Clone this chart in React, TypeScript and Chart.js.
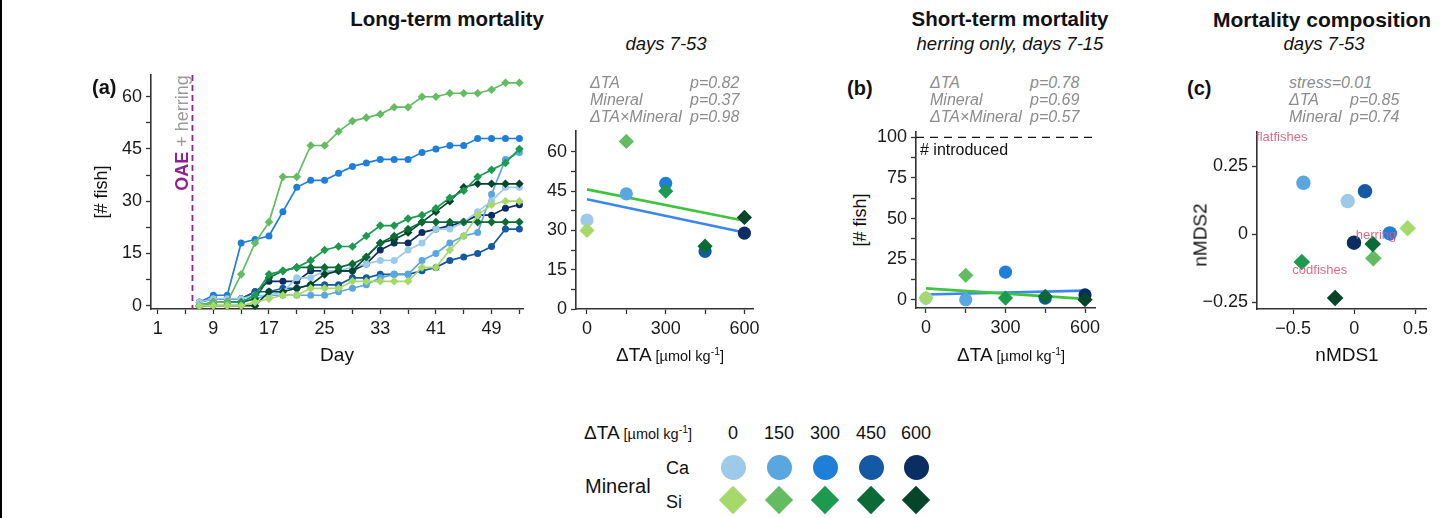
import React, { useEffect, useRef } from 'react';
import { Chart, registerables } from 'chart.js';

Chart.register(...registerables);

const FONT = '"Liberation Sans", Arial, Helvetica, sans-serif';

// ---------------- data ----------------
const days = [7, 9, 11, 13, 15, 17, 19, 21, 23, 25, 27, 29, 31, 33, 35, 37, 39, 41, 43, 45, 47, 49, 51, 53];
const ca0 = [1, 2, 2, 2, 3, 3, 4, 8, 8, 10, 10, 11, 12, 13, 13, 16, 18, 22, 22, 24, 27, 30, 34, 34];
const ca150 = [0, 1, 1, 1, 2, 3, 3, 3, 3, 3, 4, 5, 6, 8, 9, 9, 13, 15, 18, 20, 21, 32, 42, 44];
const ca300 = [1, 3, 3, 18, 19, 20, 27, 34, 36, 36, 38, 40, 41, 42, 42, 42, 44, 45, 46, 46, 48, 48, 48, 48];
const ca450 = [1, 2, 2, 2, 4, 4, 5, 5, 6, 6, 6, 8, 8, 9, 9, 9, 10, 11, 13, 14, 15, 17, 22, 22];
const ca600 = [1, 2, 2, 2, 4, 7, 7, 7, 10, 10, 10, 10, 12, 16, 18, 18, 21, 22, 23, 24, 26, 26, 28, 29];
const si0 = [0, 0, 0, 0, 1, 2, 3, 3, 5, 5, 5, 7, 7, 7, 7, 7, 11, 11, 16, 20, 26, 29, 30, 30];
const si150 = [0, 1, 1, 9, 18, 24, 37, 37, 46, 46, 50, 53, 54, 55, 57, 57, 60, 60, 61, 61, 61, 62, 64, 64];
const si300 = [0, 1, 1, 1, 3, 9, 10, 11, 13, 16, 17, 17, 20, 23, 23, 25, 26, 28, 31, 33, 37, 39, 41, 45];
const si450 = [0, 1, 1, 1, 2, 8, 10, 11, 11, 11, 11, 12, 14, 18, 20, 22, 24, 24, 24, 24, 24, 24, 24, 24];
const si600 = [0, 0, 0, 0, 0, 4, 4, 5, 6, 9, 10, 10, 14, 18, 19, 21, 24, 27, 30, 34, 35, 35, 35, 35];
const oaeDay = 6;

const taLevels = [0, 150, 300, 450, 600];
const caColors = ['#9ecae9', '#5aa7e0', '#1f7fd8', '#1558a3', '#0a2d62'];
const siColors = ['#a6d96a', '#63bb62', '#1b9a50', '#0a6b37', '#05452a'];

const longCa = [34, 44, 48, 22, 29];
const longSi = [30, 64, 45, 24, 35];
const fitX = [0, 600];
const longFitCa = [41.9, 29.2];
const longFitSi = [45.7, 33.7];

const shortCa = [1, 0, 17, 1, 3];
const shortSi = [1, 15, 1, 2, 0];
const shortFitCa = [3.2, 5.6];
const shortFitSi = [7.0, 0.5];
const introducedN = 100;

const nmdsCaX = [-0.054, -0.416, 0.29, 0.087, -0.003];
const nmdsCaY = [0.122, 0.189, 0.003, 0.158, -0.031];
const nmdsSiX = [0.435, 0.155, -0.429, 0.15, -0.157];
const nmdsSiY = [0.022, -0.088, -0.102, -0.036, -0.234];
const speciesNames = ['flatfishes', 'herring', 'codfishes'];
const speciesX = [-0.593, 0.177, -0.282];
const speciesY = [0.357, -0.003, -0.131];

const pTermsLong = ['ΔTA', 'Mineral', 'ΔTA×Mineral'];
const pValsLong = [0.82, 0.37, 0.98];
const pTermsShort = ['ΔTA', 'Mineral', 'ΔTA×Mineral'];
const pValsShort = [0.78, 0.69, 0.57];
const nmdsStress = 0.01;
const pTermsNmds = ['ΔTA', 'Mineral'];
const pValsNmds = [0.85, 0.74];

// tick lists
const tsXTicks = [1, 5, 9, 13, 17, 21, 25, 29, 33, 37, 41, 45, 49, 53];
const tsXLabels = [1, 9, 17, 25, 33, 41, 49];
const fishTicks = [0, 7.5, 15, 22.5, 30, 37.5, 45, 52.5, 60];
const fishLabels = [0, 15, 30, 45, 60];
const taTicks = [0, 150, 300, 450, 600];
const taLabels = [0, 300, 600];
const shortTicks = [0, 12.5, 25, 37.5, 50, 62.5, 75, 87.5, 100];
const shortLabels = [0, 25, 50, 75, 100];
const nmdsXTicks = [-0.5, 0, 0.5];
const nmdsYTicks = [-0.25, 0, 0.25];

// ---------------- helpers ----------------
const PURPLE = '#922092';
const GREYTXT = '#8c8c8c';
const AXIS = '#333333';

function axis(min: number, max: number, ticks: number[], labels: number[], fmt: (v: number) => string = (v) => String(v)) {
  return {
    type: 'linear',
    min,
    max,
    afterBuildTicks: (s: any) => {
      s.ticks = ticks.map((v) => ({ value: v }));
    },
    ticks: {
      autoSkip: false,
      maxRotation: 0,
      minRotation: 0,
      padding: 4,
      color: '#1a1a1a',
      font: { family: FONT, size: 18 },
      callback: (v: number) => (labels.some((l) => Math.abs(l - v) < 1e-9) ? fmt(v) : ''),
    },
    grid: { display: true, drawOnChartArea: false, drawTicks: true, tickLength: 5, tickWidth: 1.3, tickColor: AXIS },
    border: { display: true, color: AXIS, width: 1.6 },
  } as any;
}

const nmdsFmt = (v: number) => (Math.abs(v) < 1e-9 ? '0' : (v < 0 ? '\u2212' : '') + String(Math.abs(v)));

type Area = { left: number; top: number; right: number; bottom: number };

function ChartPanel({ area, yW, xH = 40, padTop = 20, padRight = 20, make }: { area: Area; yW: number; xH?: number; padTop?: number; padRight?: number; make: () => any }) {
  const ref = useRef<HTMLCanvasElement | null>(null);
  const w = area.right - area.left + yW + padRight;
  const h = area.bottom - area.top + padTop + xH;
  useEffect(() => {
    const cfg = make();
    cfg.options = cfg.options || {};
    cfg.options.responsive = false;
    cfg.options.animation = false;
    cfg.options.devicePixelRatio = 1;
    cfg.options.events = [];
    cfg.options.layout = { padding: { top: padTop, right: padRight, left: 0, bottom: 0 } };
    cfg.options.plugins = { ...(cfg.options.plugins || {}), legend: { display: false }, tooltip: { enabled: false } };
    cfg.options.scales.x.afterFit = (s: any) => {
      s.height = xH;
    };
    cfg.options.scales.y.afterFit = (s: any) => {
      s.width = yW;
    };
    const chart = new Chart(ref.current as HTMLCanvasElement, cfg);
    return () => chart.destroy();
  }, []);
  return (
    <canvas
      ref={ref}
      width={w}
      height={h}
      style={{ position: 'absolute', left: area.left - yW, top: area.top - padTop, width: w, height: h }}
    />
  );
}

function Txt({ x, y, a = 'start', size = 18, bold = false, italic = false, color = '#111', rot = false, children }: any) {
  const tx = a === 'start' ? '0' : a === 'middle' ? '-50%' : '-100%';
  return (
    <div
      style={{
        position: 'absolute',
        left: x,
        top: y,
        transform: rot ? 'translate(-50%,-50%) rotate(-90deg)' : `translate(${tx},-50%)`,
        fontSize: size,
        fontWeight: bold ? 700 : 400,
        fontStyle: italic ? 'italic' : 'normal',
        color,
        whiteSpace: 'nowrap',
        lineHeight: 1,
      }}
    >
      {children}
    </div>
  );
}

const TAUnit = ({ big = 19, small = 14.5 }: any) => (
  <span>
    <span style={{ fontSize: big }}>ΔTA</span>
    <span style={{ fontSize: small }}>
      {' '}[µmol kg<sup style={{ fontSize: '0.72em', verticalAlign: '0.55em' }}>-1</sup>]
    </span>
  </span>
);

// ---------------- chart builders ----------------
const caSeries = [ca0, ca150, ca300, ca450, ca600];
const siSeries = [si0, si150, si300, si450, si600];

const oaePlugin = {
  id: 'oaeLine',
  beforeDatasetsDraw(chart: any) {
    const { ctx, chartArea, scales } = chart;
    const x = scales.x.getPixelForValue(oaeDay);
    ctx.save();
    ctx.strokeStyle = PURPLE;
    ctx.lineWidth = 1.8;
    ctx.setLineDash([6, 4]);
    ctx.beginPath();
    ctx.moveTo(x, chartArea.top);
    ctx.lineTo(x, chartArea.bottom);
    ctx.stroke();
    ctx.restore();
  },
};

function makeTs() {
  const ds: any[] = [];
  siSeries.forEach((s, i) =>
    ds.push({
      data: days.map((d, j) => ({ x: d, y: s[j] })),
      showLine: true,
      borderColor: siColors[i],
      backgroundColor: siColors[i],
      pointBackgroundColor: siColors[i],
      pointBorderColor: siColors[i],
      pointBorderWidth: 0,
      pointStyle: 'rectRot',
      pointRadius: 4.3,
      borderWidth: 1.7,
      clip: false,
    })
  );
  caSeries.forEach((s, i) =>
    ds.push({
      data: days.map((d, j) => ({ x: d, y: s[j] })),
      showLine: true,
      borderColor: caColors[i],
      backgroundColor: caColors[i],
      pointBackgroundColor: caColors[i],
      pointBorderColor: caColors[i],
      pointBorderWidth: 0,
      pointStyle: 'circle',
      pointRadius: 3.5,
      borderWidth: 1.7,
      clip: false,
    })
  );
  return {
    type: 'scatter',
    data: { datasets: ds },
    options: {
      scales: {
        x: axis(0.04, 53.52, tsXTicks, tsXLabels),
        y: axis(-0.95, 66.24, fishTicks, fishLabels),
      },
    },
    plugins: [oaePlugin],
  };
}

function pointsAndFits(caY: number[], siY: number[], fitCa: number[], fitSi: number[], rC: number, rS: number) {
  return [
    {
      data: taLevels.map((x, i) => ({ x, y: siY[i] })),
      pointStyle: 'rectRot',
      pointRadius: rS,
      pointBackgroundColor: siColors,
      pointBorderColor: siColors,
      pointBorderWidth: 0,
      showLine: false,
      order: 1,
      clip: false,
    },
    {
      data: taLevels.map((x, i) => ({ x, y: caY[i] })),
      pointStyle: 'circle',
      pointRadius: rC,
      pointBackgroundColor: caColors,
      pointBorderColor: caColors,
      pointBorderWidth: 0,
      showLine: false,
      order: 2,
      clip: false,
    },
    {
      data: fitX.map((x, i) => ({ x, y: fitSi[i] })),
      showLine: true,
      borderColor: '#3ec43e',
      borderWidth: 2.6,
      pointRadius: 0,
      order: 3,
    },
    {
      data: fitX.map((x, i) => ({ x, y: fitCa[i] })),
      showLine: true,
      borderColor: '#3b87f0',
      borderWidth: 2.6,
      pointRadius: 0,
      order: 4,
    },
  ];
}

function makeLong() {
  return {
    type: 'scatter',
    data: { datasets: pointsAndFits(longCa, longSi, longFitCa, longFitSi, 6.6, 7.6) },
    options: {
      scales: {
        x: axis(-41.8, 632.7, taTicks, taLabels),
        y: axis(0, 68, fishTicks, fishLabels),
      },
    },
  };
}

const introPlugin = {
  id: 'introLine',
  beforeDatasetsDraw(chart: any) {
    const { ctx, chartArea, scales } = chart;
    const y = scales.y.getPixelForValue(introducedN);
    ctx.save();
    ctx.strokeStyle = '#111';
    ctx.lineWidth = 1.4;
    ctx.setLineDash([8, 6]);
    ctx.beginPath();
    ctx.moveTo(chartArea.left, y);
    ctx.lineTo(chartArea.right, y);
    ctx.stroke();
    ctx.setLineDash([]);
    ctx.fillStyle = '#111';
    ctx.font = `16px ${FONT}`;
    ctx.textAlign = 'left';
    ctx.textBaseline = 'middle';
    ctx.fillText('# introduced', chartArea.left + 4, y + 13);
    ctx.restore();
  },
};

function makeShort() {
  return {
    type: 'scatter',
    data: { datasets: pointsAndFits(shortCa, shortSi, shortFitCa, shortFitSi, 6.6, 7.6) },
    options: {
      scales: {
        x: axis(-37.7, 637.7, taTicks, taLabels),
        y: axis(-5.1, 103.3, shortTicks, shortLabels),
      },
    },
    plugins: [introPlugin],
  };
}

const speciesPlugin = {
  id: 'species',
  afterDatasetsDraw(chart: any) {
    const { ctx, scales } = chart;
    ctx.save();
    ctx.font = `13px ${FONT}`;
    ctx.fillStyle = 'rgba(220, 90, 120, 0.9)';
    ctx.textAlign = 'center';
    ctx.textBaseline = 'middle';
    speciesNames.forEach((n, i) => {
      ctx.fillText(n, scales.x.getPixelForValue(speciesX[i]), scales.y.getPixelForValue(speciesY[i]));
    });
    ctx.restore();
  },
};

function makeNmds() {
  return {
    type: 'scatter',
    data: {
      datasets: [
        {
          data: nmdsSiX.map((x, i) => ({ x, y: nmdsSiY[i] })),
          pointStyle: 'rectRot',
          pointRadius: 8.3,
          pointBackgroundColor: siColors,
          pointBorderColor: siColors,
          pointBorderWidth: 0,
          order: 1,
          clip: false,
        },
        {
          data: nmdsCaX.map((x, i) => ({ x, y: nmdsCaY[i] })),
          pointStyle: 'circle',
          pointRadius: 7.2,
          pointBackgroundColor: caColors,
          pointBorderColor: caColors,
          pointBorderWidth: 0,
          order: 2,
          clip: false,
        },
      ],
    },
    options: {
      scales: {
        x: axis(-0.795, 0.585, nmdsXTicks, nmdsXTicks, nmdsFmt),
        y: axis(-0.2744, 0.3755, nmdsYTicks, nmdsYTicks, nmdsFmt),
      },
    },
    plugins: [speciesPlugin],
  };
}

// ---------------- layout ----------------
const areaTs: Area = { left: 151, top: 75, right: 523, bottom: 309 };
const areaLong: Area = { left: 576, top: 131, right: 753, bottom: 309 };
const areaShort: Area = { left: 916, top: 132, right: 1095, bottom: 308 };
const areaNmds: Area = { left: 1257, top: 132, right: 1426, bottom: 309 };

function PBlock({ x1, x2, terms, vals, top = 83 }: any) {
  return (
    <>
      {terms.map((t: string, i: number) => (
        <React.Fragment key={i}>
          <Txt x={x1} y={top + i * 16.8} size={16} italic color={GREYTXT}>
            {t}
          </Txt>
          <Txt x={x2} y={top + i * 16.8} size={16} italic color={GREYTXT}>
            {'p=' + vals[i].toFixed(2)}
          </Txt>
        </React.Fragment>
      ))}
    </>
  );
}

const legendX = [733, 779, 825, 871, 916];

export default function App() {
  return (
    <div
      style={{
        position: 'fixed',
        left: 0,
        top: 0,
        width: 1447,
        height: 518,
        overflow: 'hidden',
        background: '#ffffff',
        fontFamily: FONT,
        color: '#111',
      }}
    >
      <div style={{ position: 'absolute', left: 0, top: 0, width: 2, height: 518, background: '#000' }} />

      <ChartPanel area={areaTs} yW={40} make={makeTs} />
      <ChartPanel area={areaLong} yW={40} make={makeLong} />
      <ChartPanel area={areaShort} yW={45} make={makeShort} />
      <ChartPanel area={areaNmds} yW={60} make={makeNmds} />

      {/* titles */}
      <Txt x={447} y={19} a="middle" size={20.5} bold>Long-term mortality</Txt>
      <Txt x={666} y={44} a="middle" size={18.5} italic>days 7-53</Txt>
      <Txt x={1010} y={19} a="middle" size={20.5} bold>Short-term mortality</Txt>
      <Txt x={1010} y={44} a="middle" size={18.5} italic>herring only, days 7-15</Txt>
      <Txt x={1213} y={19} size={21} bold>Mortality composition</Txt>
      <Txt x={1324} y={44} a="middle" size={18.5} italic>days 7-53</Txt>

      {/* panel labels */}
      <Txt x={92} y={87} size={20} bold>(a)</Txt>
      <Txt x={847} y={88} size={20} bold>(b)</Txt>
      <Txt x={1187} y={88} size={20} bold>(c)</Txt>

      {/* p values */}
      <PBlock x1={590} x2={690} terms={pTermsLong} vals={pValsLong} />
      <PBlock x1={930} x2={1030} terms={pTermsShort} vals={pValsShort} />
      <Txt x={1289} y={83} size={16} italic color={GREYTXT}>{'stress=' + nmdsStress.toFixed(2)}</Txt>
      <PBlock x1={1289} x2={1350} terms={pTermsNmds} vals={pValsNmds} top={99.8} />

      {/* OAE label */}
      <Txt x={182} y={133} rot size={18}>
        <span style={{ color: PURPLE, fontWeight: 700 }}>OAE</span>
        <span style={{ color: '#9a9a9a' }}> + herring</span>
      </Txt>

      {/* axis titles */}
      <Txt x={101} y={192} rot size={18}>[# fish]</Txt>
      <Txt x={337} y={354} a="middle" size={19}>Day</Txt>
      <Txt x={670} y={354} a="middle"><TAUnit /></Txt>
      <Txt x={860} y={220} rot size={18}>[# fish]</Txt>
      <Txt x={1011} y={354} a="middle"><TAUnit /></Txt>
      <Txt x={1200} y={235} rot size={19}>nMDS2</Txt>
      <Txt x={1347} y={354} a="middle" size={19}>nMDS1</Txt>

      {/* legend */}
      <Txt x={584} y={432}><TAUnit /></Txt>
      {taLevels.map((v, i) => (
        <Txt key={'n' + i} x={legendX[i]} y={433} a="middle" size={18}>{String(v)}</Txt>
      ))}
      <Txt x={585} y={486} size={20}>Mineral</Txt>
      <Txt x={666} y={468} size={18}>Ca</Txt>
      <Txt x={666} y={502} size={18}>Si</Txt>
      {taLevels.map((v, i) => (
        <div
          key={'c' + i}
          style={{
            position: 'absolute',
            left: legendX[i] - 12.5,
            top: 467 - 12.5,
            width: 25,
            height: 25,
            borderRadius: '50%',
            background: caColors[i],
          }}
        />
      ))}
      {taLevels.map((v, i) => (
        <div
          key={'d' + i}
          style={{
            position: 'absolute',
            left: legendX[i] - 10,
            top: 500 - 10,
            width: 20,
            height: 20,
            transform: 'rotate(45deg)',
            background: siColors[i],
          }}
        />
      ))}
    </div>
  );
}
